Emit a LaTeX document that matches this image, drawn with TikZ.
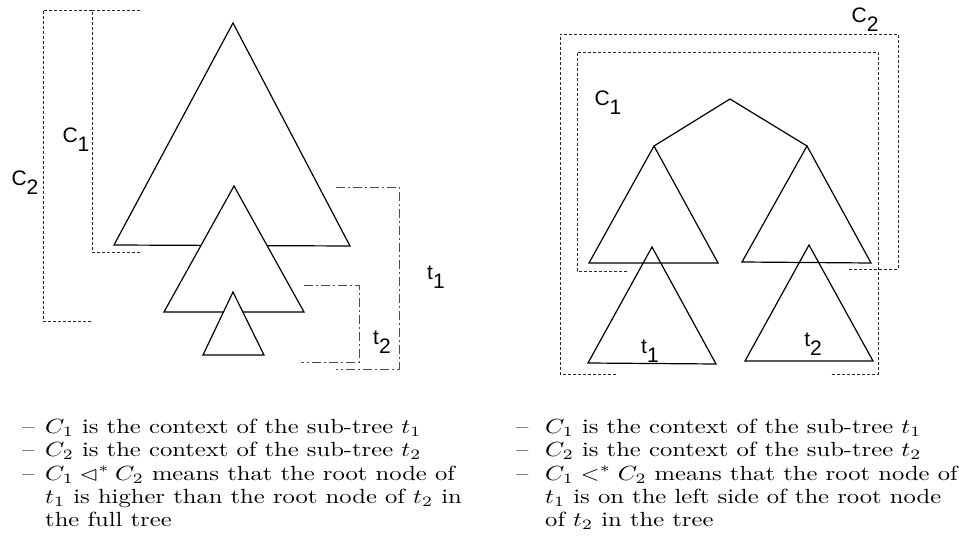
\documentclass[tikz,border=0pt]{standalone}
\usepackage{fontspec}
\usepackage{amssymb}
\newfontfamily\labfont{Liberation Sans}
\newcommand\sublab[2]{#1\raisebox{-0.42em}{#2}}
\newcommand\txtline[1]{\scalebox{2.46}[2.05]{\fontsize{10}{12}\selectfont #1}}
\tikzset{
  tri/.style={draw=black, line width=1.2pt, line join=miter},
  ctxbr/.style={draw=black!85, line width=0.7pt, dash pattern=on 3pt off 2pt},
  subbr/.style={draw=black!70, line width=0.8pt, dash pattern=on 9pt off 3pt on 2pt off 3pt},
  lab/.style={font=\fontsize{21}{21}\labfont, inner sep=0pt},
  txt/.style={anchor=base west, inner sep=0pt},
}
\begin{document}
\begin{tikzpicture}[x=1pt,y=-1pt]
\useasboundingbox (0,0) rectangle (959,559);
% ---------- left picture ----------
\coordinate (LA1) at (233,23);  \coordinate (LB1) at (114,245); \coordinate (LC1) at (350,246);
\coordinate (LA2) at (234,186); \coordinate (LB2) at (164,312); \coordinate (LC2) at (304,312);
\coordinate (LA3) at (233,292); \coordinate (LB3) at (203,355); \coordinate (LC3) at (264,355);
\draw[tri] (LA1)--(LB1)--(LC1)--cycle;
\draw[tri, fill=white] (LA2)--(LB2)--(LC2)--cycle;
\draw[tri, fill=white] (LA3)--(LB3)--(LC3)--cycle;
% context brackets
\draw[ctxbr] (92,10)--(43,10)--(43,321)--(92,321);
\draw[ctxbr] (140,10)--(92,10)--(92,252)--(142,252);
% subtree brackets
\draw[subbr] (336,187)--(399,187)--(399,369)--(336,369);
\draw[subbr] (304,285)--(359,285)--(359,362)--(301,362);
\node[lab] (lc1) at (76,140) {\sublab{C}{1}};
\node[lab] (lc2) at (25,183) {\sublab{C}{2}};
\node[lab] (lt1) at (436,277) {\sublab{t}{1}};
\node[lab] (lt2) at (382,342) {\sublab{t}{2}};
% ---------- right picture ----------
\draw[ctxbr] (616,374)--(560,374)--(560,34)--(898,34)--(898,269)--(848,269);
\draw[ctxbr] (627,271)--(577,271)--(577,52)--(878,52)--(878,374)--(830,374);
\coordinate (R) at (730,99);
\coordinate (RL) at (654,146);
\coordinate (RR) at (807,146);
\draw[tri] (RL)--(R)--(RR);
\draw[tri] (RL)--(589,263)--(718,263)--cycle;
\draw[tri] (RR)--(742,262)--(871,263)--cycle;
\draw[tri] (652,247)--(588,363)--(716,364)--cycle;
\draw[tri] (809,245)--(745,361)--(873,361)--cycle;
\node[lab] (rc1) at (608,103) {\sublab{C}{1}};
\node[lab] (rc2) at (865,20) {\sublab{C}{2}};
\node[lab] (rt1) at (650,351) {\sublab{t}{1}};
\node[lab] (rt2) at (813,344) {\sublab{t}{2}};
% ---------- text ----------
\node[txt] (ld1) at (22,433) {\txtline{--}};
\node[txt] (ld2) at (22,456) {\txtline{--}};
\node[txt] (ld3) at (22,480) {\txtline{--}};
\node[txt] (l1) at (45,433) {\txtline{$C_1$ is the context of the sub-tree $t_1$}};
\node[txt] (l2) at (45,456) {\txtline{$C_2$ is the context of the sub-tree $t_2$}};
\node[txt] (l3) at (45,480) {\txtline{$C_1 \lhd^* C_2$ means that the root node of}};
\node[txt] (l4) at (45,503) {\txtline{$t_1$ is higher than the root node of $t_2$ in}};
\node[txt] (l5) at (45,526) {\txtline{the full tree}};
\node[txt] (rd1) at (516,433) {\txtline{--}};
\node[txt] (rd2) at (516,456) {\txtline{--}};
\node[txt] (rd3) at (516,480) {\txtline{--}};
\node[txt] (r1) at (545,433) {\txtline{$C_1$ is the context of the sub-tree $t_1$}};
\node[txt] (r2) at (545,456) {\txtline{$C_2$ is the context of the sub-tree $t_2$}};
\node[txt] (r3) at (545,480) {\txtline{$C_1 <^* C_2$ means that the root node of}};
\node[txt] (r4) at (545,503) {\txtline{$t_1$ is on the left side of the root node}};
\node[txt] (r5) at (545,526) {\txtline{of $t_2$ in the tree}};
\end{tikzpicture}
\end{document}
